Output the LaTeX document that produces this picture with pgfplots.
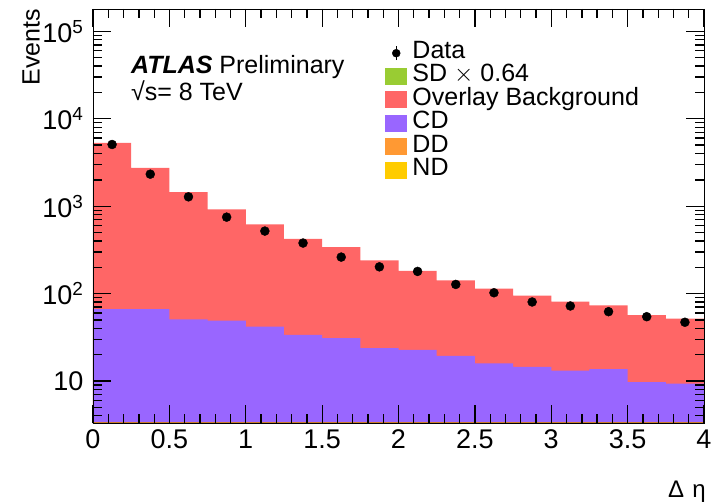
\documentclass[border=0pt]{standalone}
\usepackage{pgfplots}
\pgfplotsset{compat=1.18}
\usepackage{fontspec}
\setmainfont{Liberation Sans}

\definecolor{sdgreen}{RGB}{153,204,51}
\definecolor{bgred}{RGB}{255,102,102}
\definecolor{cdpurple}{RGB}{153,102,255}
\definecolor{ddorange}{RGB}{255,153,51}
\definecolor{ndyellow}{RGB}{255,204,0}

% stacked histogram heights (bin left edges), last bin repeated at x=4
\pgfplotstableread{
x     total   cd
0.00  5290    66.5
0.25  2740    66.5
0.50  1445    50.7
0.75  916     48.9
1.00  618     41.8
1.25  423     33.6
1.50  340     30.8
1.75  239     23.8
2.00  181     22.6
2.25  141.6   19.3
2.50  113.5   15.9
2.75  94.4    14.45
3.00  80.5    13.1
3.25  73.3    13.6
3.50  56.7    9.66
3.75  51.5    9.3
4.00  51.5    9.3
}\histtab

\pgfplotstableread{
x      y
0.125  5070
0.375  2320
0.625  1277
0.875  748
1.125  518
1.375  378
1.625  261
1.875  202
2.125  179
2.375  127
2.625  102
2.875  80
3.125  72
3.375  62
3.625  54.3
3.875  46.9
}\datatab

\begin{document}
\begin{tikzpicture}
\begin{axis}[
  width=611pt, height=414pt, scale only axis,
  xmin=0, xmax=4, ymin=3.3, ymax=1.8e5, ymode=log,
  axis on top,
  tick align=inside,
  xtick pos=both, ytick pos=both,
  major tick length=18pt,
  minor tick length=9pt,
  tick style={black, semithick},
  xtick={0,0.5,1,1.5,2,2.5,3,3.5,4},
  xticklabels={0,0.5,1,1.5,2,2.5,3,3.5,4},
  minor x tick num=4,
  ytick={10,100,1000,10000,100000},
  yticklabels={10, 10\textsuperscript{2}, 10\textsuperscript{3}, 10\textsuperscript{4}, 10\textsuperscript{5}},
  minor ytick={4,5,6,7,8,9,20,30,40,50,60,70,80,90,200,300,400,500,600,700,800,900,2000,3000,4000,5000,6000,7000,8000,9000,20000,30000,40000,50000,60000,70000,80000,90000},
  tick label style={font=\fontsize{27}{30}\selectfont},
  yticklabel style={xshift=-6pt},
  xticklabel style={yshift=-3pt},
  xlabel={Δ\hspace{0.35em}η},
  xlabel style={at={(rel axis cs:1,0)}, anchor=base east, yshift=-74pt, xshift=2pt, inner sep=0pt,
    font=\fontsize{24}{26}\selectfont},
  ylabel={Events},
  ylabel style={at={(rel axis cs:-0.0867,1)}, anchor=south east, inner sep=0pt,
    font=\fontsize{25}{28}\selectfont},
  legend cell align=left,
  legend style={draw=none, fill=none, at={(rel axis cs:0.478,0.922)}, anchor=north west,
    font=\fontsize{25}{27}\selectfont, row sep=0pt, inner sep=0pt,
    nodes={inner sep=0pt, text height=17pt, text depth=6.4pt}},
  legend image code/.code={\path[#1] (0pt,-8.5pt) rectangle (22pt,8.5pt); \path (27pt,0pt);},
]
\addlegendimage{legend image code/.code={
  \draw[black, line width=1pt] (11pt,-7pt) -- (11pt,7pt);
  \fill[black] (11pt,0pt) circle (4pt); \path (27pt,0pt);}}
\addlegendentry{Data}
\addlegendimage{fill=sdgreen, draw=none}
\addlegendentry{SD $\times$ 0.64}
\addlegendimage{fill=bgred, draw=none}
\addlegendentry{Overlay Background}
\addlegendimage{fill=cdpurple, draw=none}
\addlegendentry{CD}
\addlegendimage{fill=ddorange, draw=none}
\addlegendentry{DD}
\addlegendimage{fill=ndyellow, draw=none}
\addlegendentry{ND}

\addplot[const plot, fill=bgred, draw=none, forget plot] table[x=x, y=total] {\histtab} \closedcycle;
\addplot[const plot, fill=cdpurple, draw=none, forget plot] table[x=x, y=cd] {\histtab} \closedcycle;
\addplot[const plot, draw=ddorange!80!black, line width=1.2pt, forget plot] coordinates {(0,3.33) (4,3.33)};
\addplot[only marks, mark=*, mark size=4.5pt, black, forget plot] table[x=x, y=y] {\datatab};

\node[anchor=base west, inner sep=0pt, font=\fontsize{25}{28}\selectfont]
  at (rel axis cs:0.062,0.843) {\textbf{\textit{ATLAS}} Preliminary};
\node[anchor=base west, inner sep=0pt, font=\fontsize{25}{28}\selectfont]
  at (rel axis cs:0.062,0.780) {√s= 8 TeV};
\coordinate (sw) at (rel axis cs:0,0);
\end{axis}

% inner ticks as thin filled bars (axis box is 611pt x 414pt)
\foreach \i in {0,...,40}{
  \pgfmathsetmacro\ticklen{ifthenelse(mod(\i,5)==0,18,9)}
  \pgfmathsetmacro\xx{\i*15.275}
  \fill[black] ([xshift=\xx pt-0.6pt]sw) rectangle ([xshift=\xx pt+0.6pt, yshift=\ticklen pt]sw);
  \fill[black] ([xshift=\xx pt-0.6pt, yshift=414pt]sw) rectangle ([xshift=\xx pt+0.6pt, yshift=414pt-\ticklen pt]sw);
}
\foreach \e in {0,...,5}{
  \foreach \m in {1,...,9}{
    \pgfmathsetmacro\yy{(log10(\m)+\e-0.518514)*87.4015}
    \pgfmathsetmacro\ticklen{ifthenelse(\m==1,18,9)}
    \pgfmathtruncatemacro\ok{(\yy>0.5)&&(\yy<413.5)}
    \ifnum\ok=1
      \fill[black] ([yshift=\yy pt-0.6pt]sw) rectangle ([xshift=\ticklen pt, yshift=\yy pt+0.6pt]sw);
      \fill[black] ([xshift=611pt, yshift=\yy pt-0.6pt]sw) rectangle ([xshift=611pt-\ticklen pt, yshift=\yy pt+0.6pt]sw);
    \fi
  }
}
\pgfresetboundingbox
\path ([xshift=-93pt, yshift=-80pt]current axis.south west) rectangle ([xshift=18pt, yshift=9pt]current axis.north east);
\end{tikzpicture}
\end{document}
